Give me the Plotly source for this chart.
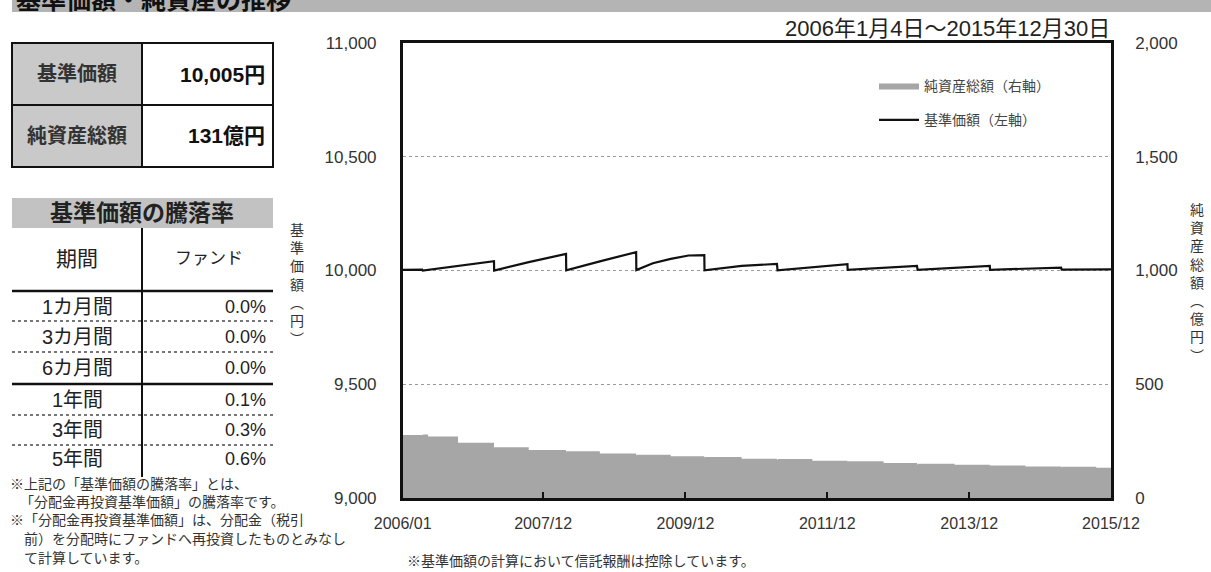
import plotly.graph_objects as go

W, H = 1211, 572

def px(x):
    return x / W

def py(y):
    return 1 - y / H

# ---------------- data ----------------
nav_dates = ["2006-01-04", "2006-04-14", "2006-04-17", "2006-10-16", "2007-04-19",
             "2007-04-20", "2007-10-15", "2008-04-24", "2008-04-25", "2008-10-15",
             "2009-04-20", "2009-04-21", "2009-07-15", "2009-10-15", "2010-01-15",
             "2010-04-06", "2010-04-07", "2010-10-15", "2011-04-15", "2011-04-18",
             "2011-10-14", "2012-04-12", "2012-04-13", "2012-10-15", "2013-04-05",
             "2013-04-08", "2013-10-15", "2014-04-15", "2014-04-16", "2014-10-15",
             "2015-04-17", "2015-04-20", "2015-12-30"]
nav_values = [10003, 10004, 10000, 10020, 10041,
              10000, 10037, 10073, 10001, 10040,
              10081, 10002, 10032, 10051, 10066,
              10068, 10001, 10020, 10029, 10001,
              10016, 10028, 10003, 10013, 10020,
              10003, 10013, 10020, 10003, 10009,
              10013, 10004, 10005]

asset_dates = ["2006-01-04", "2006-04-14", "2006-04-17", "2006-05-15", "2006-10-16",
               "2007-04-19", "2007-04-20", "2007-10-15", "2008-04-24", "2008-04-25",
               "2008-10-15", "2009-04-20", "2009-04-21", "2009-10-15", "2010-04-06",
               "2010-04-07", "2010-10-15", "2011-04-15", "2011-04-18", "2011-10-14",
               "2012-04-12", "2012-04-13", "2012-10-15", "2013-04-05", "2013-04-08",
               "2013-10-15", "2014-04-15", "2014-04-16", "2014-10-15", "2015-04-17",
               "2015-04-20", "2015-10-15", "2015-12-30"]
asset_values = [277, 276, 279, 270, 243,
                219, 223, 211, 201, 205,
                196, 186, 190, 183, 176,
                180, 173, 167, 171, 164,
                157, 161, 154, 147, 151,
                146, 140, 143, 139, 135,
                137, 133, 131]

x_tick_vals = ["2006-01-04", "2007-12-28", "2009-12-30", "2011-12-30", "2013-12-30", "2015-12-30"]
x_tick_text = ["2006/01", "2007/12", "2009/12", "2011/12", "2013/12", "2015/12"]
y_left_ticks = [9000, 9500, 10000, 10500, 11000]
y_right_ticks = [0, 500, 1000, 1500, 2000]

summary_labels = ["基準価額", "純資産総額"]
summary_values = ["10,005円", "131億円"]
period_labels = ["1カ月間", "3カ月間", "6カ月間", "1年間", "3年間", "5年間"]
period_returns = ["0.0%", "0.0%", "0.0%", "0.1%", "0.3%", "0.6%"]

FONT = "Liberation Sans, Noto Sans CJK JP, sans-serif"

fig = go.Figure()
fig.add_trace(go.Scatter(
    x=asset_dates, y=asset_values, yaxis="y2", name="純資産総額（右軸）",
    mode="lines", line=dict(color="#a6a6a6", width=0, shape="hv"),
    fill="tozeroy", fillcolor="#a6a6a6", legendgroup="a",
))
fig.add_trace(go.Scatter(
    x=nav_dates, y=nav_values, yaxis="y", name="基準価額（左軸）",
    mode="lines", line=dict(color="#111111", width=2.2), legendgroup="b",
))

x0, x1 = 402.7, 1111
y0, y1 = 43, 498

fig.update_layout(
    width=W, height=H,
    margin=dict(l=0, r=0, t=0, b=0, autoexpand=False),
    paper_bgcolor="white", plot_bgcolor="white",
    font=dict(family=FONT, color="#333333"),
    showlegend=True,
    legend=dict(x=px(874), y=py(70), xanchor="left", yanchor="top",
                font=dict(size=14, color="#444444"), bgcolor="rgba(0,0,0,0)",
                traceorder="grouped", tracegroupgap=13, itemwidth=40),
    xaxis=dict(domain=[px(x0), px(x1)], type="date", automargin=False,
               range=["2006-01-04", "2015-12-30"],
               tickmode="array", tickvals=x_tick_vals, ticktext=x_tick_text,
               ticks="inside", ticklen=6, tickwidth=2, tickcolor="#111",
               showline=True, linewidth=2.5, linecolor="#111", mirror=True,
               showgrid=False, zeroline=False,
               tickfont=dict(size=16, color="#333"), ticklabelstandoff=9),
    yaxis=dict(domain=[py(y1), py(y0)], range=[9000, 11000], automargin=False,
               tickmode="array", tickvals=y_left_ticks, tickformat=",",
               ticks="", showline=True, linewidth=2.5, linecolor="#111",
               showgrid=True, gridcolor="#9a9a9a", griddash="dot", gridwidth=1,
               zeroline=False, tickfont=dict(size=17, color="#333"),
               ticklabelstandoff=20),
    yaxis2=dict(overlaying="y", side="right", range=[0, 2000], automargin=False,
                tickmode="array", tickvals=y_right_ticks, tickformat=",",
                ticks="", showline=True, linewidth=2.5, linecolor="#111",
                showgrid=False, zeroline=False,
                tickfont=dict(size=17, color="#333"), ticklabelstandoff=18),
)

shapes = []
annots = []

def rect(xa, ya, xb, yb, fill=None, lw=0, lc="#111"):
    shapes.append(dict(type="rect", xref="paper", yref="paper",
                       x0=px(xa), x1=px(xb), y0=py(yb), y1=py(ya),
                       fillcolor=fill if fill else "rgba(0,0,0,0)",
                       line=dict(width=lw, color=lc), layer="below"))

def line(xa, ya, xb, yb, lw=2, lc="#111", dash="solid"):
    shapes.append(dict(type="line", xref="paper", yref="paper",
                       x0=px(xa), x1=px(xb), y0=py(ya), y1=py(yb),
                       line=dict(width=lw, color=lc, dash=dash)))

def text(t, x, y, size, xanchor="center", bold=False, color="#222", yanchor="middle"):
    annots.append(dict(text=f"<b>{t}</b>" if bold else t, x=px(x), y=py(y),
                       xref="paper", yref="paper", xanchor=xanchor, yanchor=yanchor,
                       showarrow=False, font=dict(size=size, color=color, family=FONT)))

# header band
rect(12, -2, 1211, 12, fill="#b4b4b4")
text("基準価額・純資産の推移", 14, 0, 25, xanchor="left", bold=True, color="#111")

# summary table
rect(12, 43, 142, 167, fill="#c9c9c9")
rect(12, 43, 273, 167, lw=2)
line(142, 43, 142, 167)
line(12, 105, 273, 105)
for i, (lab, val) in enumerate(zip(summary_labels, summary_values)):
    yc = 74 + 62 * i
    text(lab, 77, yc, 20, bold=True, color="#333")
    text(val, 267, yc, 21, xanchor="right", bold=True, color="#111")

# returns table
rect(12, 198, 273, 228, fill="#c2c2c2")
text("基準価額の騰落率", 142, 213, 23, bold=True, color="#222")
line(142, 228, 142, 477, lw=2)
text("期間", 77, 258, 21, color="#222")
text("ファンド", 209, 258, 17, color="#222")
line(12, 291, 273, 291, lw=2.5)
line(12, 384, 273, 384, lw=2.5)
row_y = [307, 337, 368, 400, 430, 459]
for i, (lab, val) in enumerate(zip(period_labels, period_returns)):
    text(lab, 77, row_y[i], 20, color="#222")
    text(val, 268, row_y[i], 18, xanchor="right", color="#222")
for yy in [321, 352, 415, 445]:
    line(12, yy, 273, yy, lw=2, lc="#777", dash="dot")

# footnotes
notes = [("※上記の「基準価額の騰落率」とは、", 8, 484),
         ("「分配金再投資基準価額」の騰落率です。", 18, 502),
         ("※「分配金再投資基準価額」は、分配金（税引", 8, 520),
         ("前）を分配時にファンドへ再投資したものとみなし", 22, 539),
         ("て計算しています。", 22, 558)]
for t, xx, yy in notes:
    text(t, xx, yy, 14, xanchor="left", color="#333")

text("※基準価額の計算において信託報酬は控除しています。", 405, 561, 14, xanchor="left", color="#333")

# date range
text("2006年1月4日～2015年12月30日", 1112, 28, 22, xanchor="right", color="#222")

# axis titles (vertical)
left_title = "<br>".join(list("基準価額") + ["︵", "円", "︶"])
right_title = "<br>".join(list("純資産総額") + ["︵", "億", "円", "︶"])
text(left_title, 297, 284, 14, color="#333")
text(right_title, 1197, 283, 14, color="#333")

fig.update_layout(shapes=shapes, annotations=annots)
fig.write_html("out.html", config={"displayModeBar": False},
               post_script="document.body.style.margin='0px';document.body.style.overflow='hidden';")
